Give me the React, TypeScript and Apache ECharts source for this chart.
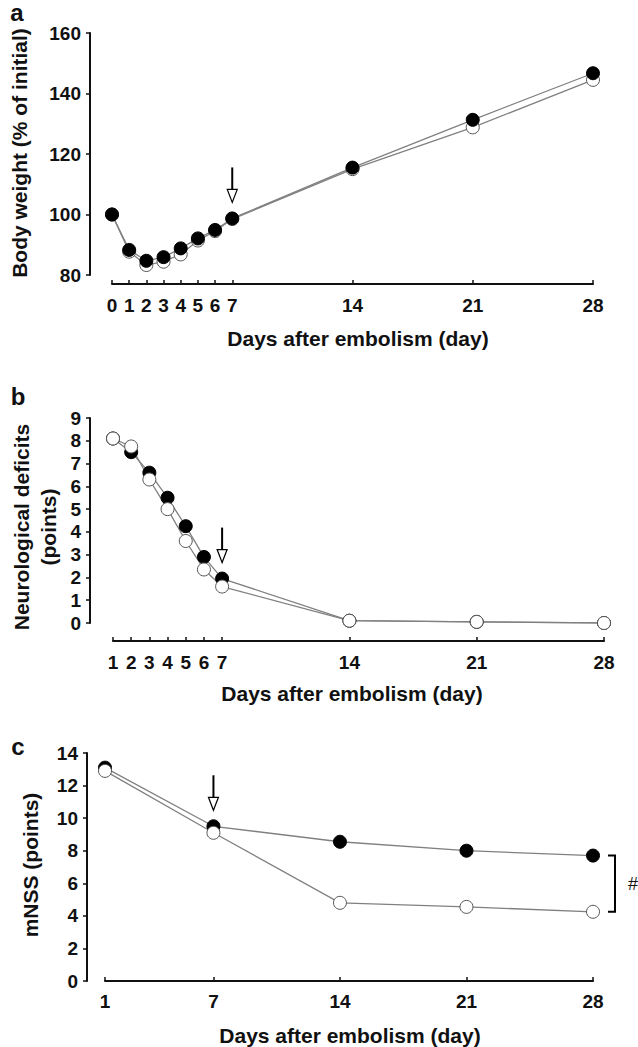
import React, { useEffect, useRef } from "react";
import * as echarts from "echarts";

// Panel a: body weight
const daysA = [0, 1, 2, 3, 4, 5, 6, 7, 14, 21, 28];
const weightFilled = [100, 88.3, 84.7, 85.9, 88.8, 92.1, 94.9, 98.7, 115.5, 131.3, 146.7];
const weightOpen = [100, 87.7, 83.3, 84.4, 86.8, 91.4, 94.5, 98.5, 115, 128.8, 144.5];
const xTicksA = [0, 1, 2, 3, 4, 5, 6, 7, 14, 21, 28];

// Panel b: neurological deficits
const daysB = [1, 2, 3, 4, 5, 6, 7, 14, 21, 28];
const deficitFilled = [8.1, 7.5, 6.6, 5.5, 4.25, 2.9, 1.95, 0.1, 0.05, 0];
const deficitOpen = [8.1, 7.75, 6.3, 5.0, 3.6, 2.35, 1.6, 0.1, 0.05, 0];
const xTicksB = [1, 2, 3, 4, 5, 6, 7, 14, 21, 28];

// Panel c: mNSS
const daysC = [1, 7, 14, 21, 28];
const mnssFilled = [13.1, 9.5, 8.55, 8.0, 7.7];
const mnssOpen = [12.9, 9.1, 4.8, 4.55, 4.25];
const xTicksC = [1, 7, 14, 21, 28];

const arrowDay = 7;
const xTitle = "Days after embolism (day)";

const FONT = '"Liberation Sans", Arial, Helvetica, sans-serif';
const INK = "#111";
const LINE = "#808080";

function xAxis(gridIndex: number, min: number, max: number, ticks: number[], offset: number, margin: number) {
  return {
    type: "value",
    gridIndex,
    min,
    max,
    offset,
    splitLine: { show: false },
    axisLine: { show: true, onZero: false, lineStyle: { color: INK, width: 2 } },
    axisTick: { show: true, inside: true, length: 4, customValues: ticks, lineStyle: { color: INK, width: 1.5 } },
    axisLabel: { customValues: ticks, color: INK, fontFamily: FONT, fontWeight: "bold", fontSize: 19, margin },
  };
}

function yAxis(gridIndex: number, min: number, max: number, interval: number, offset: number) {
  return {
    type: "value",
    gridIndex,
    min,
    max,
    interval,
    offset,
    splitLine: { show: false },
    axisLine: { show: true, onZero: false, lineStyle: { color: INK, width: 2 } },
    axisTick: { show: true, inside: false, length: 4, lineStyle: { color: INK, width: 1.5 } },
    axisLabel: { color: INK, fontFamily: FONT, fontWeight: "bold", fontSize: 19, margin: 9 },
  };
}

function series(axisIndex: number, days: number[], vals: number[], filled: boolean) {
  return {
    type: "line",
    xAxisIndex: axisIndex,
    yAxisIndex: axisIndex,
    data: days.map((d, i) => [d, vals[i]]),
    symbol: "circle",
    symbolSize: 13,
    itemStyle: filled
      ? { color: "#000", borderColor: "#000", borderWidth: 1 }
      : { color: "#fff", borderColor: "#555", borderWidth: 1 },
    lineStyle: { color: LINE, width: 1.3 },
    emphasis: { disabled: true },
  };
}

function text(x: number, y: number, t: string, size: number, rotate = false, weight = "bold", align = "center") {
  return {
    type: "text",
    x,
    y,
    rotation: rotate ? Math.PI / 2 : 0,
    style: {
      text: t,
      fill: INK,
      font: `${weight} ${size}px ${FONT}`,
      textAlign: align,
      textVerticalAlign: "middle",
      align,
      verticalAlign: "middle",
      lineHeight: 27,
    },
  };
}

export default function App() {
  const ref = useRef<HTMLDivElement>(null);
  useEffect(() => {
    document.body.style.margin = "0";
    const chart = echarts.init(ref.current!, null, { renderer: "svg" });
    chart.setOption({
      animation: false,
      backgroundColor: "#fff",
      grid: [
        { left: 112, top: 33, width: 481, height: 242 },
        { left: 113, top: 418, width: 491, height: 205 },
        { left: 105, top: 753, width: 488, height: 228 },
      ],
      xAxis: [
        xAxis(0, 0, 28, xTicksA, 9, 12),
        xAxis(1, 1, 28, xTicksB, 18, 12),
        xAxis(2, 1, 28, xTicksC, 0, 11),
      ],
      yAxis: [yAxis(0, 80, 160, 20, 22), yAxis(1, 0, 9, 1, 23), yAxis(2, 0, 14, 2, 18)],
      series: [
        series(0, daysA, weightOpen, false),
        series(0, daysA, weightFilled, true),
        series(1, daysB, deficitFilled, true),
        series(1, daysB, deficitOpen, false),
        series(2, daysC, mnssFilled, true),
        series(2, daysC, mnssOpen, false),
      ],
    });

    const graphics: any[] = [
      text(17, 12, "a", 24),
      text(18, 396, "b", 24),
      text(18, 746, "c", 24),
      text(19, 153, "Body weight (% of initial)", 21, true),
      text(35, 527, "Neurological deficits\n(points)", 21, true),
      text(30, 865, "mNSS (points)", 21, true),
      text(358, 338, xTitle, 21),
      text(352, 693, xTitle, 21),
      text(350, 1035, xTitle, 21),
    ];

    const arrow = (gridIndex: number, val: number) => {
      const p = chart.convertToPixel({ gridIndex } as any, [arrowDay, val]) as number[];
      const tip = p[1] - 16;
      const top = tip - 35;
      graphics.push({
        type: "line",
        shape: { x1: p[0], y1: top, x2: p[0], y2: tip - 11 },
        style: { stroke: "#000", lineWidth: 2 },
      });
      graphics.push({
        type: "polygon",
        shape: { points: [[p[0] - 5, tip - 13], [p[0] + 5, tip - 13], [p[0], tip]] },
        style: { fill: "#fff", stroke: "#000", lineWidth: 1.2 },
      });
    };
    arrow(0, weightFilled[daysA.indexOf(arrowDay)]);
    arrow(1, deficitFilled[daysB.indexOf(arrowDay)]);
    arrow(2, mnssFilled[daysC.indexOf(arrowDay)]);

    const last = daysC.length - 1;
    const pTop = chart.convertToPixel({ gridIndex: 2 } as any, [daysC[last], mnssFilled[last]]) as number[];
    const pBot = chart.convertToPixel({ gridIndex: 2 } as any, [daysC[last], mnssOpen[last]]) as number[];
    const bx = pTop[0] + 22;
    graphics.push({
      type: "polyline",
      shape: { points: [[bx - 7, pTop[1]], [bx, pTop[1]], [bx, pBot[1]], [bx - 7, pBot[1]]] },
      style: { stroke: "#000", lineWidth: 2, fill: null },
    });
    graphics.push(text(bx + 13, (pTop[1] + pBot[1]) / 2, "#", 18, false, "normal", "left"));

    chart.setOption({ graphic: graphics });
    return () => chart.dispose();
  }, []);
  return <div ref={ref} style={{ width: 638, height: 1047 }} />;
}
